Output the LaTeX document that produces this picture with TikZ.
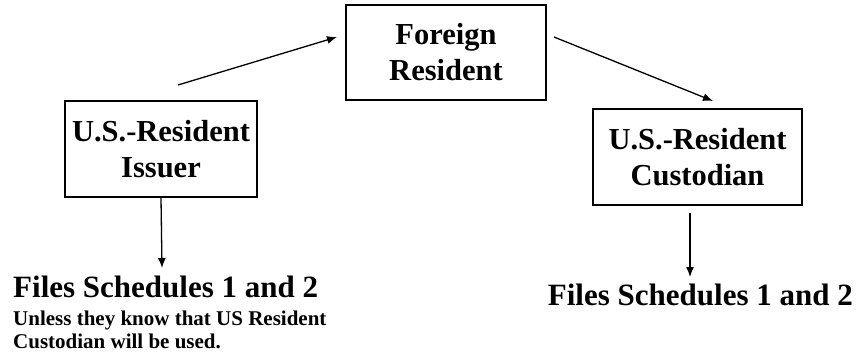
\documentclass[tikz,border=0pt]{standalone}
\usepackage{fontspec}
\setmainfont{Liberation Serif}
\usetikzlibrary{arrows.meta}
\begin{document}
\begin{tikzpicture}[x=1pt,y=-1pt,
  box/.style={draw, line width=1.3pt, inner sep=0pt, align=center,
    font=\fontsize{30.5}{36}\selectfont\bfseries},
  big/.style={inner sep=0pt, font=\fontsize{31}{36}\selectfont\bfseries},
  small/.style={inner sep=0pt, align=left, font=\fontsize{21}{23}\selectfont\bfseries},
  arr/.style={line width=1.3pt, -{Latex[length=10pt,width=8pt]}}]
\useasboundingbox (0,0) rectangle (859,356);
\node[box, minimum width=200pt, minimum height=95pt] (foreign) at (446,52.5) {Foreign\\Resident};
\node[box, minimum width=192pt, minimum height=96pt] (issuer) at (161,149) {U.S.-Resident\\Issuer};
\node[box, minimum width=209pt, minimum height=96pt] (custodian) at (697.5,157) {U.S.-Resident\\Custodian};
\node[big, anchor=base west] (filesL) at (13,297) {Files Schedules 1 and 2};
\node[small, anchor=base west] (note) at (13,348) {Unless they know that US Resident\\Custodian will be used.};
\node[big, anchor=base east] (filesR) at (853,305) {Files Schedules 1 and 2};
\coordinate (a1) at (178,85);
\coordinate (a2) at (337,37);
\coordinate (b1) at (554,37);
\coordinate (b2) at (713,101);
\coordinate (c1) at (162,268);
\coordinate (d1) at (690,213);
\coordinate (d2) at (690,277);
\draw[arr] (a1) -- (a2);
\draw[arr] (b1) -- (b2);
\draw[arr] (issuer.south) -- (c1);
\draw[arr] (d1) -- (d2);
\end{tikzpicture}
\end{document}
